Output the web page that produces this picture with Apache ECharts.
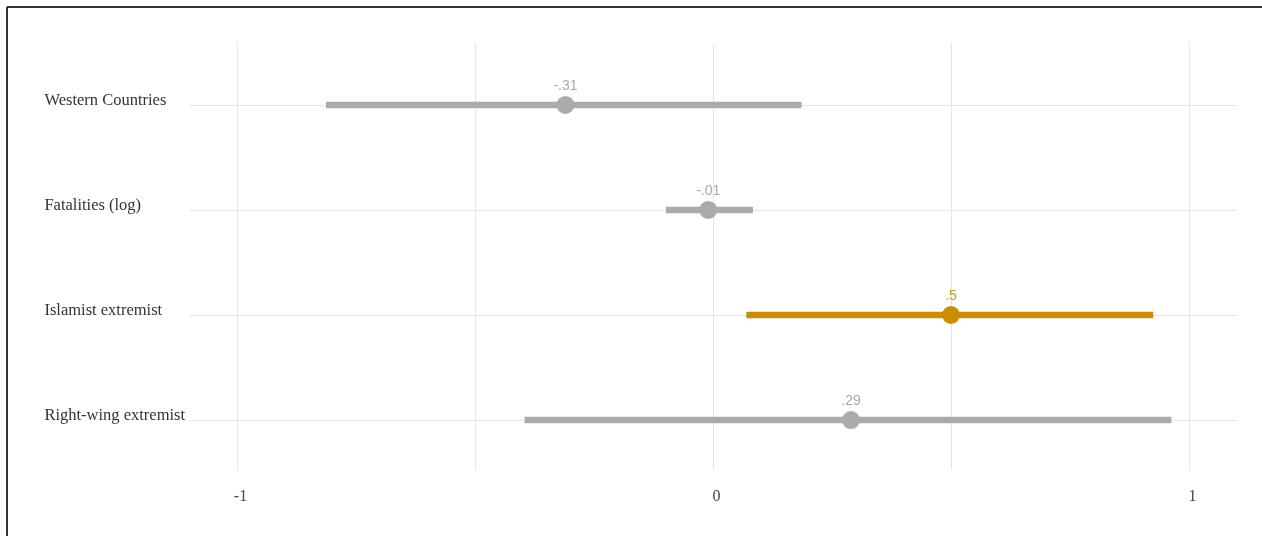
<!DOCTYPE html>
<html>
<head>
<meta charset="utf-8">
<script src="https://cdn.jsdelivr.net/npm/echarts@6/dist/echarts.min.js"></script>
<style>
  html, body { margin: 0; padding: 0; background: #fff; }
  #chart { width: 1262px; height: 536px; }
</style>
</head>
<body>
<div id="chart"></div>
<script>
// Categories, top to bottom
const categories = ['Western Countries', 'Fatalities (log)', 'Islamist extremist', 'Right-wing extremist'];
// Point estimates
const estimates = [-0.31, -0.01, 0.5, 0.29];
// Confidence interval bounds
const lower = [-0.813, -0.099, 0.070, -0.396];
const upper = [0.186, 0.084, 0.925, 0.963];
// Which rows are highlighted
const highlighted = [false, false, true, false];
// Axis ticks
const xTickValues = [-1, 0, 1];
const xGridValues = [-1, -0.5, 0, 0.5, 1];

const GRAY = '#ababab';
const GOLD = '#cc8e00';
const GOLD_LABEL = '#c99a22';

const n = categories.length;
const yPos = categories.map((c, i) => n - i);

function fmt(v) {
  let s = String(Math.round(v * 100) / 100);
  s = s.replace(/^(-?)0\./, '$1.');
  return s;
}

const barData = categories.map((c, i) => ({
  value: [lower[i], upper[i], yPos[i]],
  itemStyle: { color: highlighted[i] ? GOLD : GRAY }
}));
const pointData = categories.map((c, i) => ({
  value: [estimates[i], yPos[i]],
  itemStyle: { color: highlighted[i] ? GOLD : GRAY, opacity: 1 },
  label: { color: highlighted[i] ? GOLD_LABEL : '#a8a8a8' }
}));

const chart = echarts.init(document.getElementById('chart'), null, { renderer: 'canvas' });
chart.setOption({
  animation: false,
  backgroundColor: '#ffffff',
  grid: { left: 189.4, right: 25.4, top: 43, bottom: 66, containLabel: false },
  xAxis: {
    type: 'value', min: -1.1, max: 1.1,
    axisLine: { show: false }, axisTick: { show: false }, splitLine: { show: false },
    axisLabel: {
      customValues: xTickValues,
      formatter: v => String(v),
      fontFamily: 'Liberation Serif', fontSize: 16, color: '#444',
      margin: 19, padding: [0, 0, 0, 7]
    }
  },
  yAxis: {
    type: 'value', min: 0.524, max: 4.59,
    axisLine: { show: false }, axisTick: { show: false }, splitLine: { show: false },
    axisLabel: {
      customValues: yPos,
      formatter: v => categories[n - Math.round(v)] || '',
      align: 'left', margin: 145,
      verticalAlign: 'bottom', lineHeight: 8,
      fontFamily: 'Liberation Serif', fontSize: 16.5, color: '#333'
    }
  },
  graphic: [
    { type: 'line', shape: { x1: 7, y1: 7, x2: 1262, y2: 7 }, style: { stroke: '#333', lineWidth: 2 }, silent: true },
    { type: 'line', shape: { x1: 7, y1: 7, x2: 7, y2: 536 }, style: { stroke: '#333', lineWidth: 2 }, silent: true }
  ],
  series: [
    {
      type: 'scatter', data: [], z: 0, silent: true,
      markLine: {
        z: 0, silent: true, symbol: 'none', label: { show: false },
        lineStyle: { color: '#e6e6e6', width: 1, type: 'solid' },
        data: yPos.map(y => ({ yAxis: y })).concat(xGridValues.map(x => ({ xAxis: x })))
      }
    },
    {
      type: 'custom', z: 2, silent: true,
      data: barData,
      encode: { x: [0, 1], y: 2 },
      renderItem: function (params, api) {
        const p1 = api.coord([api.value(0), api.value(2)]);
        const p2 = api.coord([api.value(1), api.value(2)]);
        return {
          type: 'line',
          shape: { x1: p1[0], y1: p1[1], x2: p2[0], y2: p2[1] },
          style: { stroke: api.visual('color'), lineWidth: 6.5, lineCap: 'butt' }
        };
      }
    },
    {
      type: 'scatter', z: 3, silent: true,
      symbolSize: 18,
      data: pointData,
      label: {
        show: true, position: 'top', distance: 3,
        formatter: p => fmt(p.value[0]),
        fontFamily: 'Liberation Sans', fontSize: 14
      }
    }
  ]
});
</script>
</body>
</html>
